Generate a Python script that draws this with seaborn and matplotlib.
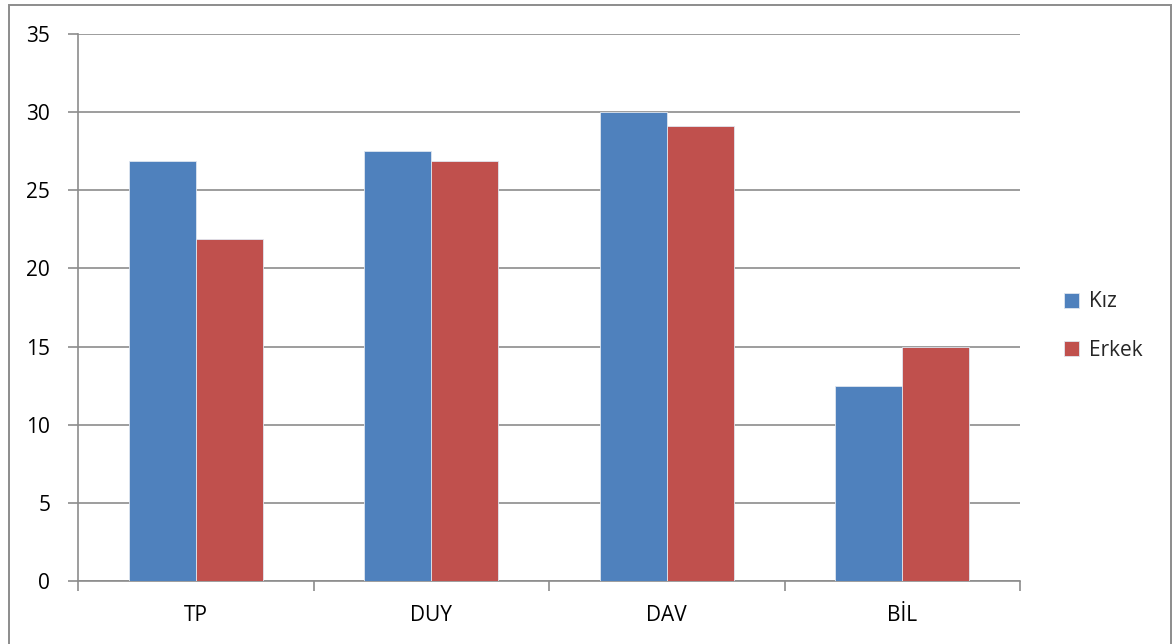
import pandas as pd
import matplotlib.pyplot as plt
import seaborn as sns
from matplotlib.patches import Rectangle

kategoriler = ['TP', 'DUY', 'DAV', 'BİL']
kiz = [26.9, 27.5, 30.0, 12.5]
erkek = [21.9, 26.9, 29.1, 15.0]

df = pd.DataFrame({
    'kategori': kategoriler * 2,
    'deger': kiz + erkek,
    'cinsiyet': ['Kız'] * 4 + ['Erkek'] * 4,
})

sns.set_style('white')
plt.rcParams['font.family'] = ['Open Sans', 'DejaVu Sans']

fig = plt.figure(figsize=(11.73, 6.44), dpi=100)
ax = fig.add_axes([78 / 1173, 1 - 581 / 644, (1020 - 78) / 1173, (581 - 34) / 644])

sns.barplot(data=df, x='kategori', y='deger', hue='cinsiyet',
            palette={'Kız': '#4F81BD', 'Erkek': '#C0504D'},
            width=0.57, gap=0, saturation=1, ax=ax, zorder=3,
            edgecolor='#dfe6f0', linewidth=0.6)

ax.set_xlim(-0.5, 3.5)
ax.set_ylim(0, 35)
ax.set_yticks(range(0, 36, 5))
ax.grid(axis='y', color='#8c8c8c', linewidth=1.2, zorder=0)
ax.set_xlabel('')
ax.set_ylabel('')

for s in ['top', 'right']:
    ax.spines[s].set_visible(False)
for s in ['left', 'bottom']:
    ax.spines[s].set_color('#8c8c8c')
    ax.spines[s].set_linewidth(1.2)

ax.tick_params(axis='y', length=7, color='#8c8c8c', width=1.2, labelsize=15,
               labelcolor='black', pad=13, left=True)
ax.tick_params(axis='x', which='major', length=0, labelsize=15, labelcolor='black', pad=17)
ax.set_xticks([-0.5, 0.5, 1.5, 2.5, 3.5], minor=True)
ax.tick_params(axis='x', which='minor', length=7, color='#8c8c8c', width=1.2, bottom=True)

handles, labels = ax.get_legend_handles_labels()
ax.get_legend().remove()
fig.legend(handles, labels, loc='center left', bbox_to_anchor=(1045 / 1173, 1 - 326 / 644),
           frameon=False, fontsize=15, handlelength=0.75, handleheight=0.75,
           labelspacing=1.3, handletextpad=0.45)

fig.patches.append(Rectangle((9 / 1173, -10 / 644), 1162 / 1173, 649 / 644,
                             transform=fig.transFigure, fill=False,
                             edgecolor='#8c8c8c', linewidth=1.4))

fig.savefig('out.png', dpi=100)
